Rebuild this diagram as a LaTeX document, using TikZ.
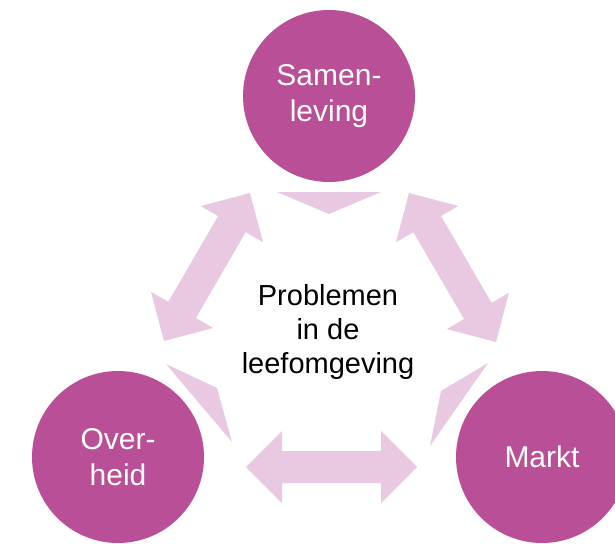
\documentclass[tikz,border=0pt]{standalone}
\usepackage{fontspec}
\setmainfont{Liberation Sans}
\usetikzlibrary{calc}

\definecolor{orb}{RGB}{185,79,150}
\definecolor{flow}{RGB}{233,201,225}

% double-headed block arrow between two named tips
\newcommand\blockarrow[2]{%
  \path ($(#1)!36pt!(#2)$) coordinate (#1#2-ha)
        ($(#2)!36pt!(#1)$) coordinate (#1#2-hb);
  \fill[flow]
    (#1) -- ($(#1#2-ha)!36pt!90:(#2)$) -- ($(#1#2-ha)!16pt!90:(#2)$)
    -- ($(#1#2-hb)!16pt!-90:(#1)$) -- ($(#1#2-hb)!36pt!-90:(#1)$)
    -- (#2) -- ($(#1#2-hb)!36pt!90:(#1)$) -- ($(#1#2-hb)!16pt!90:(#1)$)
    -- ($(#1#2-ha)!16pt!-90:(#2)$) -- ($(#1#2-ha)!36pt!-90:(#2)$) -- cycle;}

\tikzset{
  actor/.style={circle, fill=orb, draw=none, minimum size=172pt, inner sep=0pt,
    text=white, align=center, font=\fontsize{30}{36}\selectfont},
  topic/.style={align=center, text=black, font=\fontsize{29}{34}\selectfont},
}

\begin{document}
\begin{tikzpicture}[x=1pt, y=-1pt]
  \path[use as bounding box, clip] (0,0) rectangle (615,543);
  \fill[white] (0,0) rectangle (615,543);

  % the three parties
  \node[actor] (sam) at (329,96)  {Samen-\\leving};
  \node[actor] (ovh) at (118,457) {Over-\\heid};
  \node[actor] (mkt) at (542,457) {Markt};

  % the shared issue in the middle
  \node[topic] (pbl) at (328,332) {Problemen\\in de\\leefomgeving};

  % arrow tips
  \coordinate (ls) at (250,193);
  \coordinate (lo) at (164,341);
  \coordinate (rs) at (409,193);
  \coordinate (rm) at (496,342);
  \coordinate (bo) at (246,467);
  \coordinate (bm) at (417,467);

  \blockarrow{ls}{lo}
  \blockarrow{rs}{rm}
  \blockarrow{bo}{bm}

  % wedges pointing from each party to the centre
  \fill[flow] (277,192) -- (381,192) -- (329,214) -- cycle;
  \fill[flow] (166,364) -- (217,388) -- (232,442) -- cycle;
  \fill[flow] (488,363) -- (441,391) -- (430,446) -- cycle;
\end{tikzpicture}
\end{document}
